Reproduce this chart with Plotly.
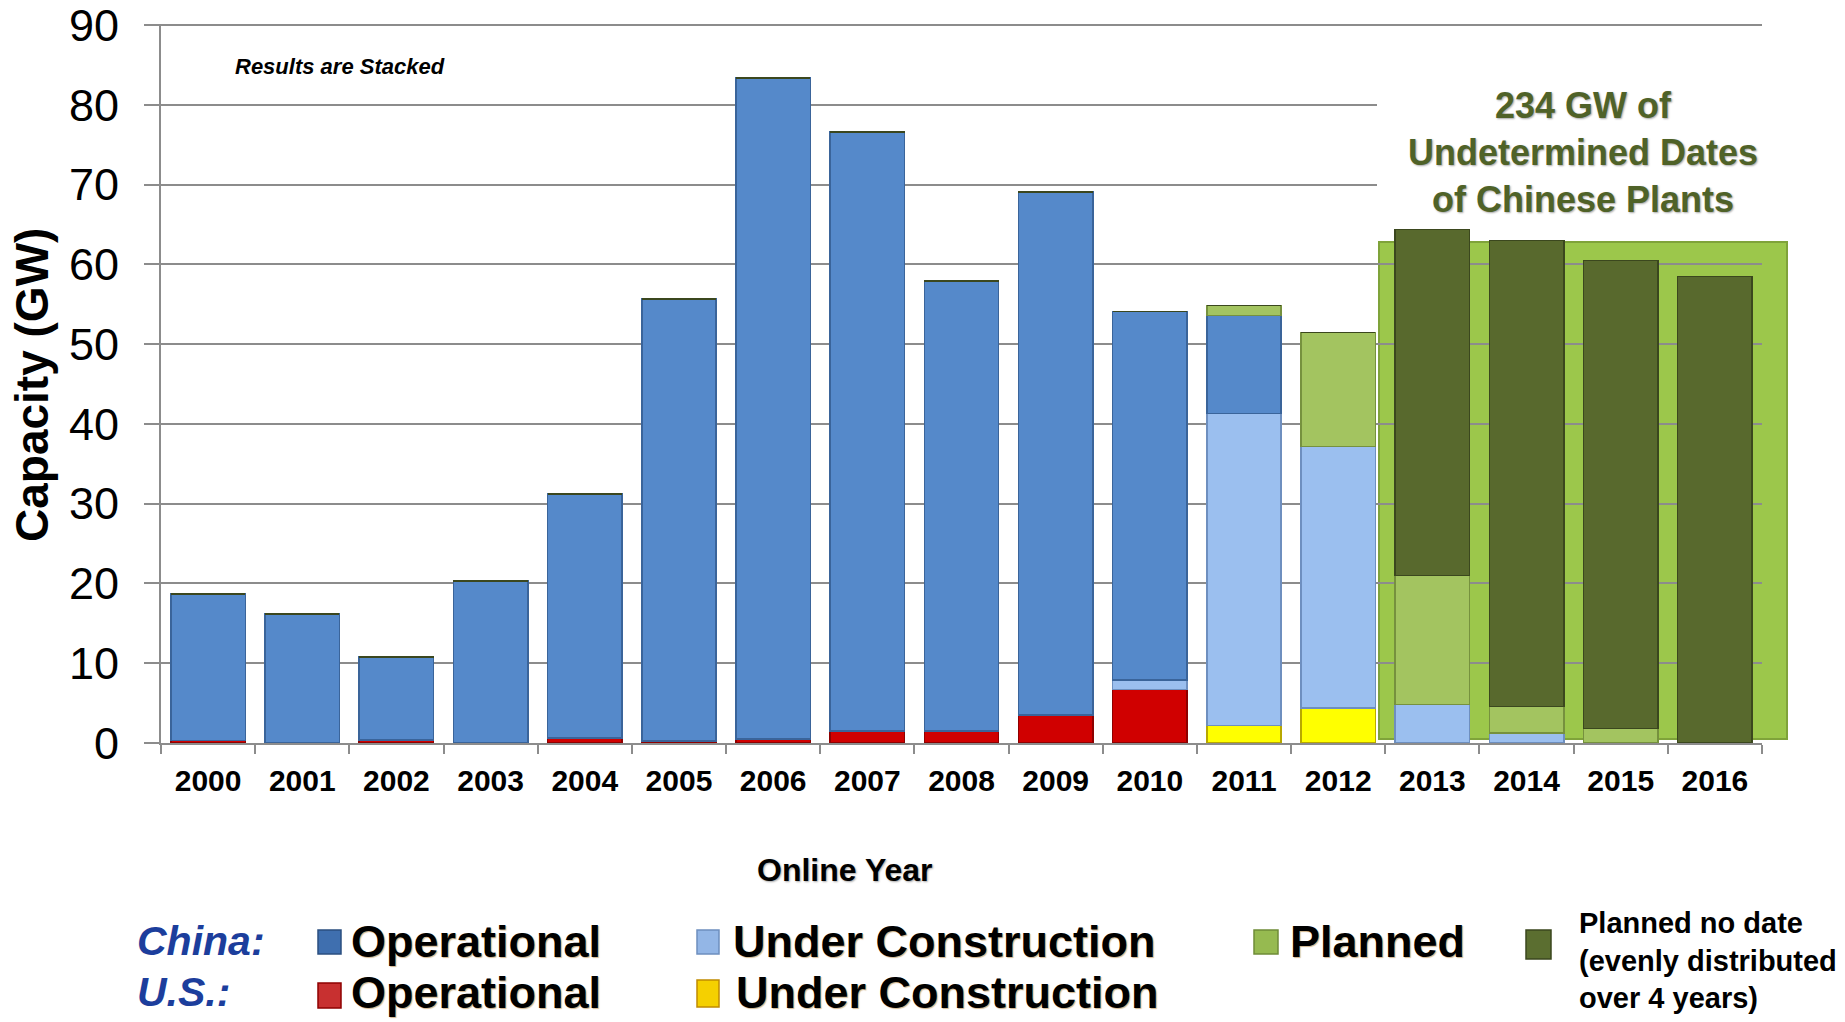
import plotly.graph_objects as go

years = [str(y) for y in range(2000, 2017)]

# stacked segments, bottom to top (GW)
us_operational = [0.3, 0.0, 0.4, 0.0, 0.6, 0.25, 0.5, 1.5, 1.5, 3.5, 6.7, 0, 0, 0, 0, 0, 0]
us_under_construction = [0, 0, 0, 0, 0, 0, 0, 0, 0, 0, 0, 2.2, 4.4, 0, 0, 0, 0]
china_under_construction = [0, 0, 0, 0, 0, 0, 0, 0, 0, 0, 1.2, 39.1, 32.8, 4.8, 1.25, 0, 0]
china_operational = [18.4, 16.2, 10.4, 20.3, 30.6, 55.4, 82.9, 75.1, 56.4, 65.6, 46.2, 12.3, 0, 0, 0, 0, 0]
china_planned = [0, 0, 0, 0, 0, 0, 0, 0, 0, 0, 0, 1.25, 14.3, 16.2, 3.35, 1.8, 0]
china_planned_no_date = [0, 0, 0, 0, 0, 0, 0, 0, 0, 0, 0, 0, 0, 43.4, 58.4, 58.7, 58.5]

series = [
    ("U.S. Operational", us_operational, "#D00000", "#8E0000"),
    ("U.S. Under Construction", us_under_construction, "#FFFF00", "#B8A800"),
    ("China Under Construction", china_under_construction, "#9BBFEF", "#6E8FBF"),
    ("China Operational", china_operational, "#5589CA", "#3A649A"),
    ("China Planned", china_planned, "#A3C460", "#76913E"),
    ("China Planned no date", china_planned_no_date, "#58692D", "#3B471E"),
]

FONT = "Liberation Sans, Arial, sans-serif"
GRID = "#8C8C8C"

W, H = 1845, 1022
# plot area in window pixels, used to place the hand-made legend and box
X0, X1, Y0, Y1 = 161, 1762, 24, 743


def px(x):
    return (x - X0) / (X1 - X0)


def py(y):
    return (Y1 - y) / (Y1 - Y0)


fig = go.Figure()
for name, vals, color, edge in series:
    fig.add_trace(go.Bar(
        x=years, y=vals, name=name, showlegend=False,
        marker=dict(color=color, line=dict(color=edge, width=1.5)),
    ))

shapes = []
# green box behind the undated Chinese plants
shapes.append(dict(type="rect", xref="paper", yref="paper", layer="below",
                   x0=px(1379), x1=px(1787), y0=py(739), y1=py(242),
                   fillcolor="#9CC74B", line=dict(color="#7FA33A", width=2)))
# white patch behind the box title
shapes.append(dict(type="rect", xref="paper", yref="paper", layer="above",
                   x0=px(1377), x1=px(1775), y0=py(215), y1=py(60),
                   fillcolor="white", line=dict(width=0)))

annotations = [
    dict(text="Results are Stacked", x=px(233), y=py(67), xref="paper", yref="paper",
         xanchor="left", yanchor="middle", showarrow=False,
         font=dict(family=FONT, size=22, color="black", weight="bold", style="italic")),
    dict(text="234 GW of<br>Undetermined Dates<br>of Chinese Plants",
         x=px(1583), y=py(153), xref="paper", yref="paper",
         xanchor="center", yanchor="middle", showarrow=False,
         font=dict(family=FONT, size=36, color="#4F6228", weight="bold",
                   shadow="1px 1px 2px rgba(0,0,0,0.35)")),
    dict(text="Capacity (GW)", x=px(32), y=py(385), xref="paper", yref="paper",
         xanchor="center", yanchor="middle", showarrow=False, textangle=-90,
         font=dict(family=FONT, size=46, color="black", weight="bold")),
    dict(text="Online Year", x=px(845), y=py(870), xref="paper", yref="paper",
         xanchor="center", yanchor="middle", showarrow=False,
         font=dict(family=FONT, size=32, color="black", weight="bold",
                   shadow="1px 1px 2px rgba(0,0,0,0.35)")),
]

# custom legend
legend_font = dict(family=FONT, size=45, color="black", weight="bold",
                   shadow="1px 1px 1px rgba(150,90,0,0.45)")
country_font = dict(family=FONT, size=41, color="#1C3E9C", weight="bold", style="italic")
for label, yc in [("China:", 941), ("U.S.:", 992)]:
    annotations.append(dict(text=label, x=px(135), y=py(yc), xref="paper", yref="paper",
                            xanchor="left", yanchor="middle", showarrow=False,
                            font=country_font))

legend_items = [
    # marker x0, x1, y0, y1, fill, edge, text, text x, text y
    (318, 341, 930, 954, "#3F6FAF", "#2B4F80", "Operational", 349, 941),
    (697, 719, 930, 954, "#93B6E6", "#6E8FBF", "Under Construction", 731, 941),
    (1254, 1278, 930, 954, "#96BA50", "#6F8C37", "Planned", 1288, 941),
    (318, 341, 983, 1008, "#C83030", "#8E0000", "Operational", 349, 992),
    (697, 719, 980, 1007, "#F5D000", "#C08A00", "Under Construction", 734, 992),
]
for mx0, mx1, my0, my1, fill, edge, text, tx, ty in legend_items:
    shapes.append(dict(type="rect", xref="paper", yref="paper",
                       x0=px(mx0), x1=px(mx1), y0=py(my1), y1=py(my0),
                       fillcolor=fill, line=dict(color=edge, width=1.5)))
    annotations.append(dict(text=text, x=px(tx), y=py(ty), xref="paper", yref="paper",
                            xanchor="left", yanchor="middle", showarrow=False,
                            font=legend_font))

shapes.append(dict(type="rect", xref="paper", yref="paper",
                   x0=px(1526), x1=px(1551), y0=py(959), y1=py(930),
                   fillcolor="#5B6E30", line=dict(color="#3B471E", width=1.5)))
annotations.append(dict(text="Planned no date<br>(evenly distributed<br>over 4 years)",
                        x=px(1577), y=py(960), xref="paper", yref="paper",
                        xanchor="left", yanchor="middle", align="left", showarrow=False,
                        font=dict(family=FONT, size=29, color="black", weight="bold")))

fig.update_layout(
    barmode="stack",
    bargap=0.21,
    width=W, height=H,
    margin=dict(l=X0, r=W - X1, t=Y0, b=H - Y1),
    plot_bgcolor="white", paper_bgcolor="white",
    shapes=shapes, annotations=annotations,
    font=dict(family=FONT, color="black"),
)
fig.update_xaxes(
    type="category", showgrid=False, showline=True, linecolor=GRID, linewidth=2,
    ticks="outside", tickson="boundaries", ticklen=9, tickcolor=GRID, tickwidth=2,
    tickfont=dict(family=FONT, size=30, color="black", weight="bold"),
    ticklabelstandoff=10, automargin=False,
)
fig.update_yaxes(
    range=[0, 90.15], tickvals=list(range(0, 100, 10)), showgrid=True,
    gridcolor=GRID, gridwidth=2,
    showline=True, linecolor=GRID, linewidth=2, zeroline=False,
    ticks="outside", ticklen=15, tickcolor=GRID, tickwidth=2,
    tickfont=dict(family=FONT, size=45, color="black"),
    ticklabelstandoff=16, ticklabeloverflow="allow", automargin=False,
)

# drop the default 8px body margin so the figure fills the window exactly
fig.write_html("out.html", config={"displayModeBar": False},
               post_script="document.body.style.margin='0';")
